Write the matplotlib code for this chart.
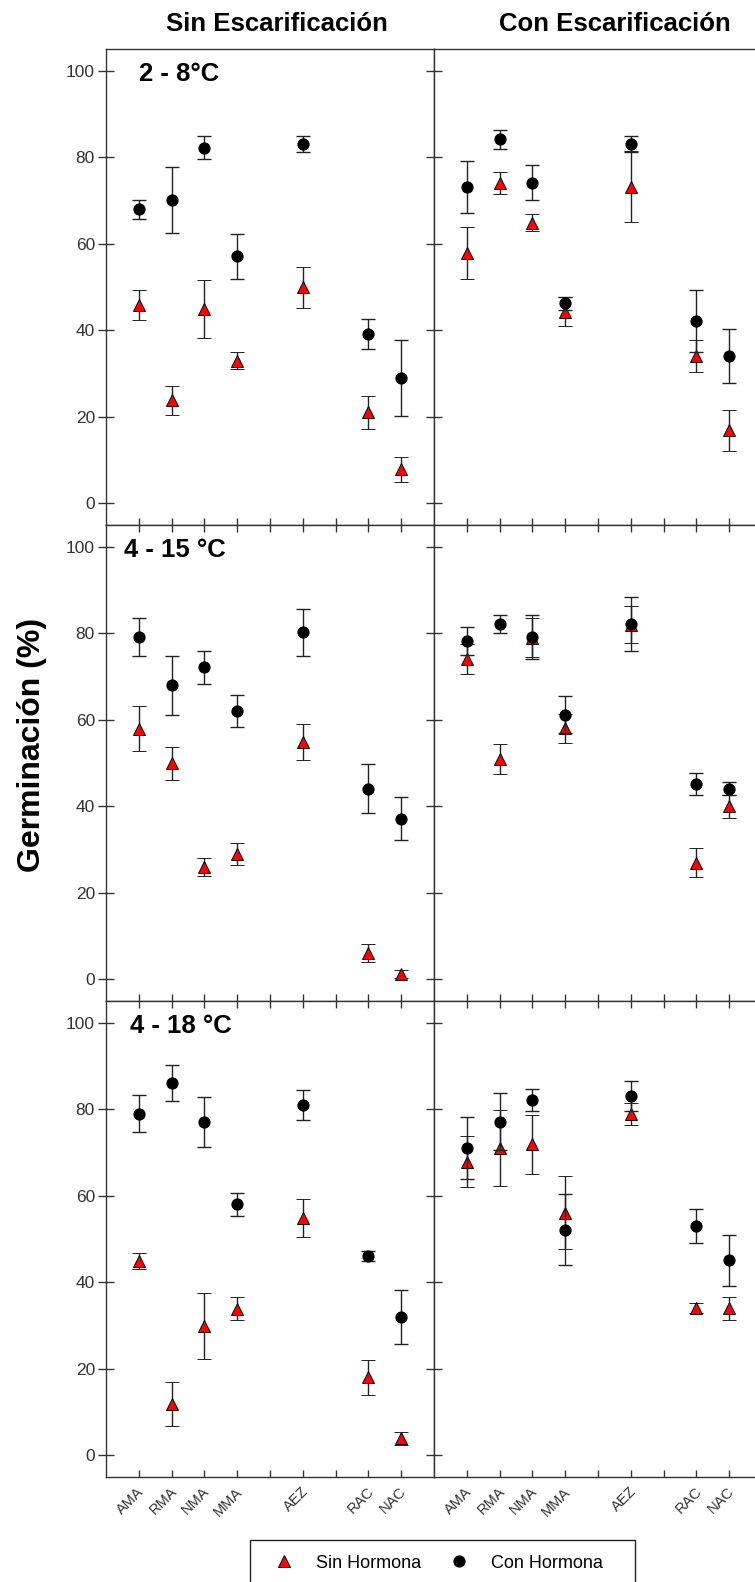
import matplotlib
matplotlib.use("Agg")
import matplotlib.pyplot as plt
from matplotlib.lines import Line2D
from matplotlib.patches import Rectangle
from matplotlib.transforms import ScaledTranslation

plt.rcParams['font.family'] = ['Liberation Sans', 'DejaVu Sans']

# Accesiones y su posición en el eje x (huecos en 5 y 7)
accesiones = ['AMA', 'RMA', 'NMA', 'MMA', 'AEZ', 'RAC', 'NAC']
posiciones = [1, 2, 3, 4, 6, 8, 9]
temperaturas = ['2 - 8°C', '4 - 15 °C', '4 - 18 °C']
tratamientos = ['Sin Escarificación', 'Con Escarificación']

# Germinación (%) y error, 2 - 8 ºC
ch_28_se = [68.0, 70.1, 82.2, 57.1, 83.1, 39.1, 29.0]
ch_28_se_err = [2.2, 7.7, 2.6, 5.2, 1.9, 3.5, 8.7]
sh_28_se = [45.9, 23.8, 45.0, 33.0, 49.9, 21.0, 7.9]
sh_28_se_err = [3.5, 3.4, 6.7, 1.9, 4.7, 3.7, 2.9]
ch_28_ce = [73.2, 84.1, 74.1, 46.2, 83.1, 42.1, 34.1]
ch_28_ce_err = [6.0, 2.2, 4.1, 1.6, 1.9, 7.2, 6.2]
sh_28_ce = [57.9, 74.0, 64.9, 44.3, 73.2, 34.0, 16.9]
sh_28_ce_err = [6.0, 2.5, 1.9, 3.3, 8.2, 3.7, 4.7]

# 4 - 15 ºC
ch_415_se = [79.1, 68.0, 72.1, 62.1, 80.2, 44.1, 37.1]
ch_415_se_err = [4.3, 6.8, 3.8, 3.7, 5.4, 5.7, 5.0]
sh_415_se = [57.9, 49.9, 26.0, 28.9, 54.9, 6.0, 1.2]
sh_415_se_err = [5.2, 3.9, 2.1, 2.5, 4.1, 2.1, 1.0]
ch_415_ce = [78.2, 82.1, 79.1, 61.2, 82.1, 45.1, 44.1]
ch_415_ce_err = [3.3, 2.1, 5.0, 4.2, 6.2, 2.5, 1.4]
sh_415_ce = [74.0, 50.9, 79.0, 58.0, 82.0, 27.0, 40.0]
sh_415_ce_err = [3.5, 3.4, 4.4, 3.3, 4.2, 3.3, 2.7]

# 4 - 18 ºC
ch_418_se = [79.0, 86.1, 77.1, 58.0, 81.0, 46.1, 32.0]
ch_418_se_err = [4.2, 4.2, 5.8, 2.6, 3.4, 1.1, 6.2]
sh_418_se = [44.9, 11.9, 29.9, 33.9, 54.9, 18.0, 3.9]
sh_418_se_err = [1.9, 5.0, 7.7, 2.6, 4.4, 4.1, 1.6]
ch_418_ce = [71.0, 77.1, 82.1, 52.1, 83.0, 53.0, 45.1]
ch_418_ce_err = [7.2, 6.6, 2.5, 8.2, 3.4, 3.9, 5.9]
sh_418_ce = [67.9, 71.0, 71.9, 56.1, 78.9, 34.0, 34.0]
sh_418_ce_err = [5.8, 8.7, 6.8, 8.5, 2.5, 1.2, 2.7]

paneles = [
    [(sh_28_se, sh_28_se_err, ch_28_se, ch_28_se_err),
     (sh_28_ce, sh_28_ce_err, ch_28_ce, ch_28_ce_err)],
    [(sh_415_se, sh_415_se_err, ch_415_se, ch_415_se_err),
     (sh_415_ce, sh_415_ce_err, ch_415_ce, ch_415_ce_err)],
    [(sh_418_se, sh_418_se_err, ch_418_se, ch_418_se_err),
     (sh_418_ce, sh_418_ce_err, ch_418_ce, ch_418_ce_err)],
]

W, H = 755, 1582
fig = plt.figure(figsize=(W / 100, H / 100), dpi=100)

linea = '#333333'
col_x = [106, 434]
fila_top = [49, 525, 1001]
ancho, alto = 328, 476
etiqueta_x = [1.0, 0.55, 0.73]
desplaza = ScaledTranslation(3 / 100, 0, fig.dpi_scale_trans)

for i in range(3):
    for j in range(2):
        ax = fig.add_axes([col_x[j] / W, (H - fila_top[i] - alto) / H, ancho / W, alto / H])
        sh, sh_err, ch, ch_err = paneles[i][j]
        ax.errorbar(posiciones, sh, yerr=sh_err, fmt='^', color='red', mec='black', mew=0.7,
                    ms=8.5, ecolor='#222222', elinewidth=1.0, capsize=4.8, capthick=1.0, zorder=3)
        ax.errorbar(posiciones, ch, yerr=ch_err, fmt='o', color='black', mec='black',
                    ms=7.8, ecolor='#222222', elinewidth=1.0, capsize=4.8, capthick=1.0, zorder=4)
        ax.set_xlim(0, 10)
        ax.set_ylim(-5, 105)
        ax.set_yticks(range(0, 101, 20))
        ax.set_xticks(range(1, 10))
        for s in ax.spines.values():
            s.set_color(linea)
            s.set_linewidth(1.0)
        ax.tick_params(axis='y', direction='inout', length=12, width=1.0, color=linea,
                       labelsize=12.5, labelcolor='#333333', pad=2)
        ax.tick_params(axis='x', direction='in', length=5, width=1.0, color=linea,
                       top=(i > 0), bottom=True)
        if j == 1:
            ax.set_yticklabels([])
        if i == 2:
            nombres = [''] * 9
            for p, n in zip(posiciones, accesiones):
                nombres[p - 1] = n
            ax.set_xticklabels(nombres, rotation=45, ha='right', va='center',
                               rotation_mode='anchor', fontsize=10.5, color='#333333')
            ax.tick_params(axis='x', pad=9)
            for lab in ax.get_xticklabels():
                lab.set_transform(lab.get_transform() + desplaza)
        else:
            ax.set_xticklabels([])
        if j == 0:
            ax.text(etiqueta_x[i], 97.6, temperaturas[i], fontsize=18.5, weight='bold',
                    ha='left', va='baseline')

fig.text(276.5 / W, 1 - 24 / H, tratamientos[0], ha='center', va='center',
         fontsize=18.5, weight='bold')
fig.text(615 / W, 1 - 24 / H, tratamientos[1], ha='center', va='center',
         fontsize=18.5, weight='bold')
fig.text(32 / W, 1 - 745 / H, 'Germinación (%)', rotation=90, ha='center', va='center',
         fontsize=23, weight='bold')

# leyenda con marco propio (se sale por el borde inferior)
manejadores = [
    Line2D([], [], marker='^', ls='none', color='red', mec='black', mew=0.7, ms=8.5),
    Line2D([], [], marker='o', ls='none', color='black', ms=7.8),
]
fig.legend(manejadores, ['Sin Hormona', 'Con Hormona'], ncol=2, frameon=False,
           loc='center left', bbox_to_anchor=(274 / W, 1 - 1563 / H), fontsize=13,
           borderpad=0, borderaxespad=0, handlelength=1.085, handletextpad=1.23,
           columnspacing=1.56)
fig.add_artist(Rectangle((249.5 / W, 1 - 1590 / H), (634.7 - 249.5) / W, 50 / H,
                         transform=fig.transFigure, fill=False, edgecolor='#222222',
                         linewidth=1.0))

fig.savefig('out.png', dpi=100)
